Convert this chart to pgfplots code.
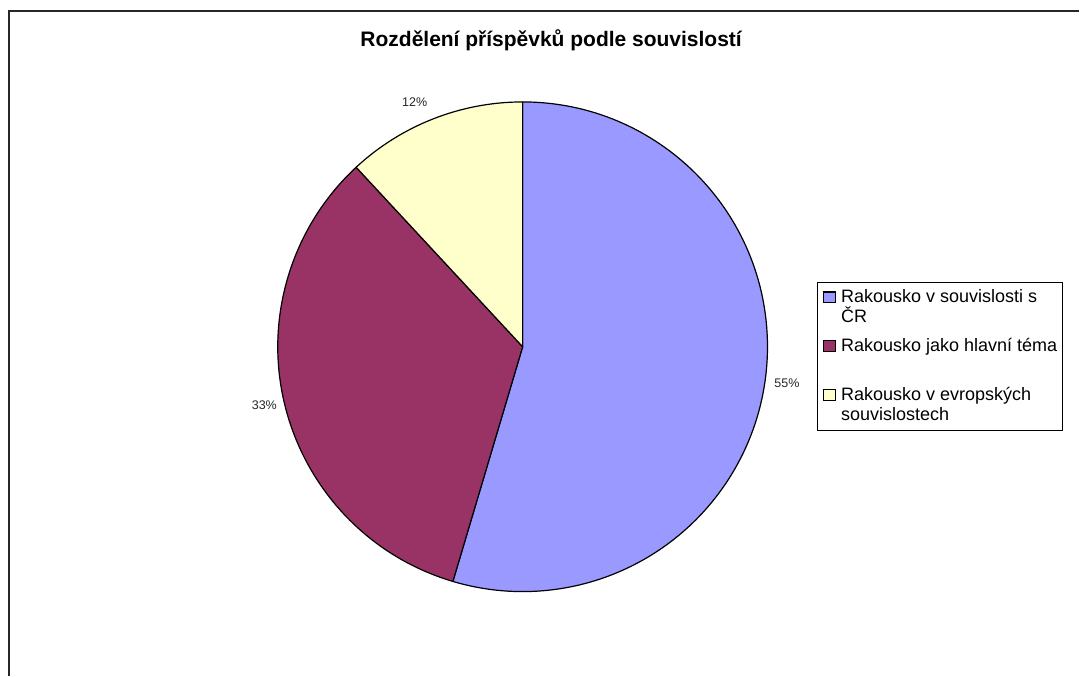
\documentclass[border=0pt]{standalone}
\usepackage{pgfplots}
\usepackage{pgfplotstable}
\pgfplotsset{compat=1.18}
\usepackage{fontspec}
\setmainfont{Liberation Sans}
\definecolor{pieblue}{HTML}{9999FF}
\definecolor{piemaroon}{HTML}{993366}
\definecolor{pieyellow}{HTML}{FFFFCC}

\pgfplotstableread{
idx value
0 54.6
1 33.5
2 11.9
}\piedata
\pgfplotstablegetelem{0}{value}\of\piedata \let\va\pgfplotsretval
\pgfplotstablegetelem{1}{value}\of\piedata \let\vb\pgfplotsretval
\pgfplotstablegetelem{2}{value}\of\piedata \let\vc\pgfplotsretval
\pgfmathsetmacro{\tot}{\va+\vb+\vc}
\pgfmathsetmacro{\aO}{90}
\pgfmathsetmacro{\aI}{\aO-\va/\tot*360}
\pgfmathsetmacro{\aII}{\aI-\vb/\tot*360}
\pgfmathsetmacro{\aIII}{\aII-\vc/\tot*360}
\def\R{122.5pt}

\begin{document}
\begin{tikzpicture}
\begin{axis}[
  scale only axis, width=540pt, height=338pt,
  xmin=0, xmax=1080, ymin=0, ymax=676, y dir=reverse,
  hide axis, clip=false,
  legend image code/.code={\draw[#1] (0pt,0pt) rectangle (6pt,5.5pt);},
  legend cell align=left,
  legend style={at={(axis cs:818,282)}, anchor=north west,
    draw=black, line width=0.5pt, fill=white,
    inner xsep=2.4pt, inner ysep=0.3pt,
    font=\fontsize{9}{10}\selectfont,
    nodes={inner sep=0pt, text height=10pt, text depth=14.5pt, anchor=base west},
    /tikz/every odd column/.append style={column sep=2.6pt},
    row sep=0pt},
]
\path (axis cs:0,0) (axis cs:1080,676);
\addlegendimage{fill=pieblue, draw=black, line width=0.6pt}
\addlegendentry{\parbox[t]{108.2pt}{\raggedright Rakousko v souvislosti s ČR}}
\addlegendimage{fill=piemaroon, draw=black, line width=0.6pt}
\addlegendentry{\parbox[t]{108.2pt}{\raggedright Rakousko jako hlavní téma}}
\addlegendimage{fill=pieyellow, draw=black, line width=0.6pt}
\addlegendentry{\parbox[t]{108.2pt}{\raggedright Rakousko v evropských souvislostech}}

\filldraw[fill=pieblue, draw=black, line width=0.6pt]
  (axis cs:523,347) -- ++(\aO:\R) arc[start angle=\aO, end angle=\aI, radius=\R] -- cycle;
\filldraw[fill=piemaroon, draw=black, line width=0.6pt]
  (axis cs:523,347) -- ++(\aI:\R) arc[start angle=\aI, end angle=\aII, radius=\R] -- cycle;
\filldraw[fill=pieyellow, draw=black, line width=0.6pt]
  (axis cs:523,347) -- ++(\aII:\R) arc[start angle=\aII, end angle=\aIII, radius=\R] -- cycle;

\draw[line width=0.75pt, black!85] (axis cs:9,676) -- (axis cs:9,11) -- (axis cs:1080,11);

\node[anchor=base, font=\fontsize{10.5}{12}\selectfont\bfseries] at (axis cs:551.5,47) {Rozdělení příspěvků podle souvislostí};

\node[anchor=base, font=\fontsize{6.25}{7}\selectfont, text=black!85] at (axis cs:415,107) {12\%};
\node[anchor=base, font=\fontsize{6.25}{7}\selectfont, text=black!85] at (axis cs:264.5,410) {33\%};
\node[anchor=base, font=\fontsize{6.25}{7}\selectfont, text=black!85] at (axis cs:787.5,388) {55\%};
\end{axis}
\end{tikzpicture}
\end{document}
